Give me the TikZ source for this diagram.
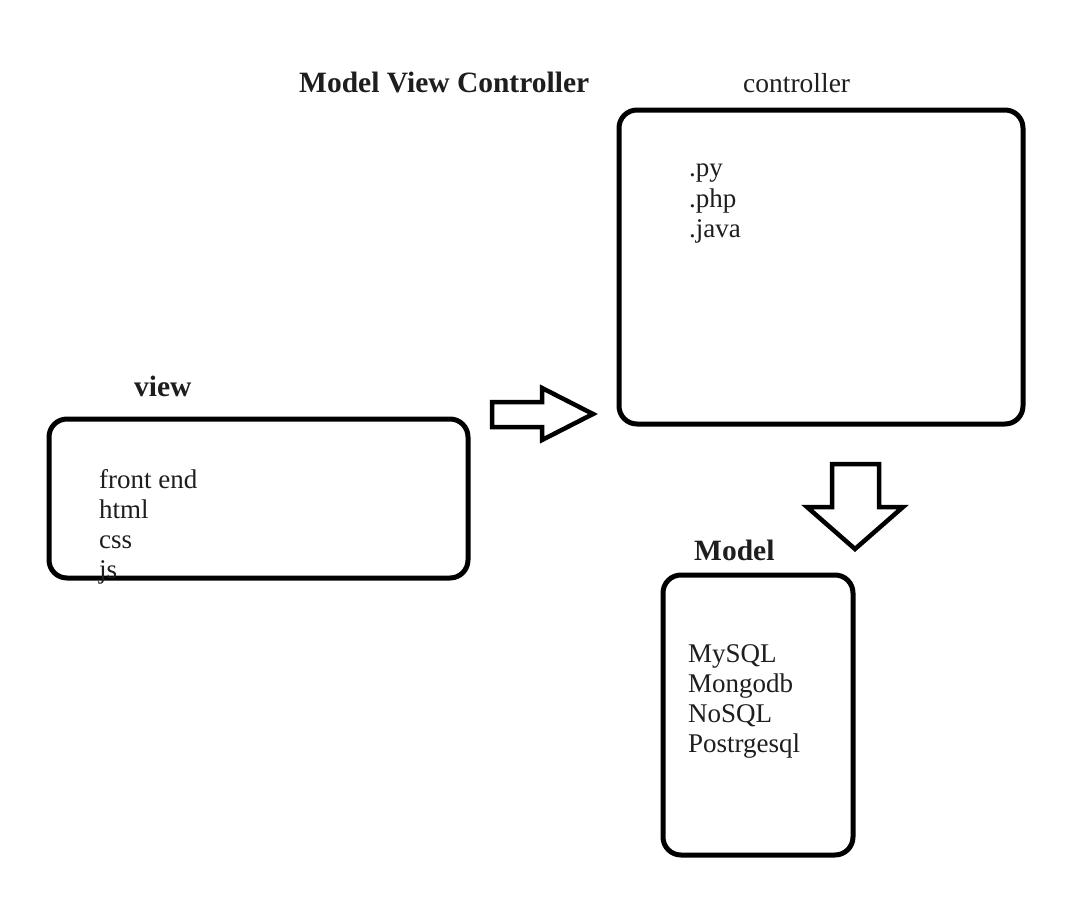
\documentclass[tikz,border=0pt]{standalone}
\usepackage{fontspec}
\setmainfont{Liberation Serif}
\definecolor{txt}{HTML}{1E1E1E}
\begin{document}
\begin{tikzpicture}[x=1pt,y=-1pt,
  box/.style={draw=black, line width=5pt, rounded corners=18pt, inner sep=0pt},
  blockarrow/.style={draw=black, line width=4.5pt, fill=white, line join=miter},
  lbl/.style={anchor=base west, inner sep=0pt, text=txt, font=\fontsize{27}{30}\selectfont},
  ttl/.style={anchor=base west, inner sep=0pt, text=txt, font=\fontsize{29.5}{32}\selectfont\bfseries}]
\useasboundingbox (0,0) rectangle (1080,910);
\fill[white] (0,0) rectangle (1080,910);
% boxes
\node[box, minimum width=419pt, minimum height=159pt] (view) at (258.5,498.5) {};
\node[box, minimum width=404pt, minimum height=314pt] (ctrl) at (821,267) {};
\node[box, minimum width=190pt, minimum height=280pt] (model) at (758,715) {};
% titles
\node[ttl] (title) at (299,92) {Model View Controller};
\node[lbl, font=\fontsize{27.5}{30}\selectfont] (ctrlttl) at (743,92) {controller};
\node[ttl] (viewttl) at (134,396) {view};
\node[ttl] (modelttl) at (694,560) {Model};
% controller content
\node[lbl] (c1) at (689,176) {.py};
\node[lbl] (c2) at (689,207) {.php};
\node[lbl] (c3) at (689,237) {.java};
% view content
\node[lbl] (v1) at (99,488) {front end};
\node[lbl] (v2) at (99,518) {html};
\node[lbl] (v3) at (99,548) {css};
\node[lbl] (v4) at (99,578) {js};
% model content
\node[lbl] (m1) at (688,662) {MySQL};
\node[lbl] (m2) at (688,692) {Mongodb};
\node[lbl] (m3) at (688,722) {NoSQL};
\node[lbl] (m4) at (688,752) {Postrgesql};
% block arrows
\draw[blockarrow] (492,402) -- (542,402) -- (542,388) -- (593,414) -- (542,440) -- (542,427) -- (492,427) -- cycle;
\draw[blockarrow] (832,464) -- (879,464) -- (879,507) -- (903,507) -- (855,549) -- (807,507) -- (832,507) -- cycle;
\end{tikzpicture}
\end{document}
